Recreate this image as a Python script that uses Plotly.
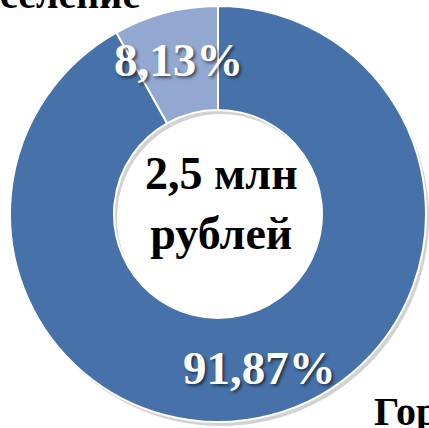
import math
import plotly.graph_objects as go

W, H = 429, 428

labels = ["Городское население", "Сельское население"]
shares = [91.87, 8.13]
colors = ["#4672A9", "#93A8D0"]
center_text = ["2,5 млн", "рублей"]

# donut geometry in pixels
cx, cy, R = 218, 214, 208
hole = 0.5

def px(x):
    return x / W

def py(y):
    return 1 - y / H

fig = go.Figure()

# soft shadow behind the ring
fig.add_trace(go.Pie(
    values=[1], labels=["shadow"], hole=hole, sort=False,
    marker=dict(colors=["#d2d2d2"], line=dict(width=0)),
    textinfo="none", hoverinfo="skip", showlegend=False,
    domain=dict(x=[px(cx - R + 3), px(cx + R + 3)], y=[py(cy + R + 4), py(cy - R + 4)]),
))

fig.add_trace(go.Pie(
    values=shares, labels=labels, hole=hole, sort=False,
    direction="clockwise", rotation=0,
    marker=dict(colors=colors, line=dict(color="white", width=2)),
    textinfo="none", showlegend=False,
    domain=dict(x=[px(cx - R), px(cx + R)], y=[py(cy + R), py(cy - R)]),
))

annotations = []
# percentage labels, placed at the middle of each slice
total = sum(shares)
start = 0.0
for v in shares:
    mid = (start + v / 2) / total * 2 * math.pi
    start += v
    r = R * 0.765
    x = cx + r * math.sin(mid)
    y = cy - r * math.cos(mid)
    txt = f"{v:.2f}".replace(".", ",") + "%"
    annotations.append(dict(
        x=px(x + 1), y=py(y), xref="paper", yref="paper", showarrow=False,
        text=f"<b>{txt}</b>", xanchor="center", yanchor="middle",
        font=dict(family="Liberation Serif", size=47, color="white",
                  shadow="2px 2px 3px rgba(0,0,0,0.55)"),
    ))

annotations.append(dict(
    x=px(cx + 3), y=py(204), xref="paper", yref="paper", showarrow=False,
    text="<b>" + "<br>".join(center_text) + "</b>", xanchor="center", yanchor="middle",
    font=dict(family="Liberation Serif", size=46, color="black"),
))

# cropped category captions at the corners
annotations.append(dict(
    x=px(142), y=py(-5), xref="paper", yref="paper", showarrow=False,
    text="<b>" + labels[1].split(" ")[1].capitalize() + "</b>", xanchor="right", yanchor="middle",
    font=dict(family="Liberation Serif", size=40, color="black"),
))
annotations.append(dict(
    x=px(372), y=py(411), xref="paper", yref="paper", showarrow=False,
    text="<b>" + labels[0] + "</b>", xanchor="left", yanchor="middle",
    font=dict(family="Liberation Serif", size=40, color="black"),
))

fig.update_layout(
    width=W, height=H,
    margin=dict(l=0, r=0, t=0, b=0),
    paper_bgcolor="white", plot_bgcolor="white",
    annotations=annotations,
    showlegend=False,
)

fig.write_html("out.html", config={"displayModeBar": False},
               post_script="document.body.style.margin='0';")
